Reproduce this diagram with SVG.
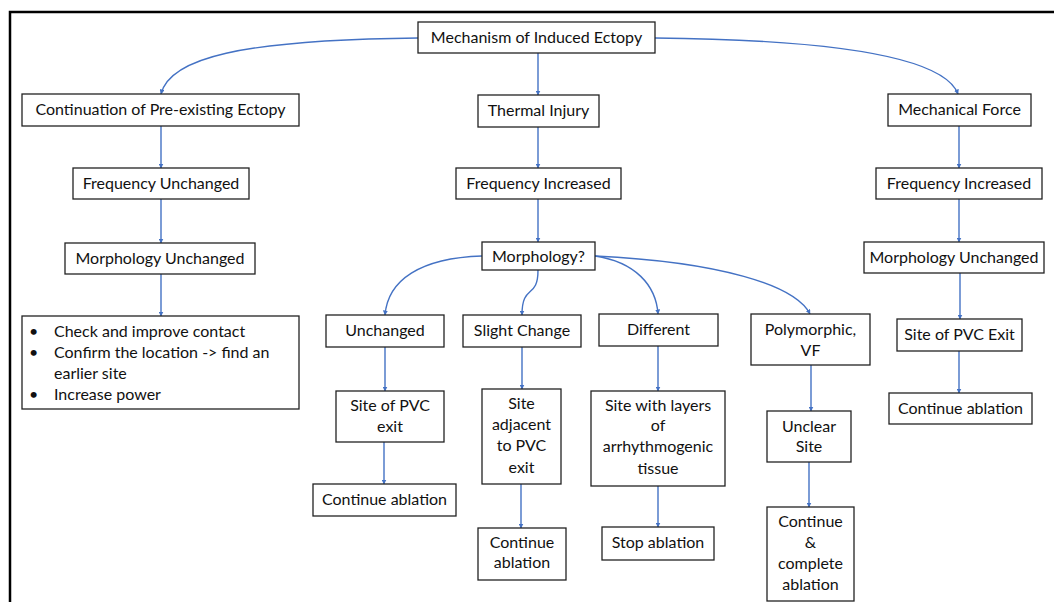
<svg xmlns="http://www.w3.org/2000/svg" width="1054" height="602" viewBox="0 0 1054 602">
<defs>
<style>
.box{fill:#fff;stroke:#222;stroke-width:1.3}
.t{font-family:Lato,"Open Sans",sans-serif;font-size:16px;fill:#111;text-anchor:middle}
.tl{font-family:Lato,"Open Sans",sans-serif;font-size:16px;fill:#111}
.c{fill:none;stroke:#4472C4;stroke-width:1.4;marker-end:url(#ah)}
</style>
<marker id="ah" viewBox="0 0 10 10" refX="9" refY="5" markerWidth="5" markerHeight="5" orient="auto-start-reverse" markerUnits="userSpaceOnUse">
<path d="M0,0 L10,5 L0,10 z" fill="#4472C4"/>
</marker>
</defs>
<rect width="1054" height="602" fill="#fff"/>
<path d="M10,604 L10,12 L1056,12" fill="none" stroke="#000" stroke-width="2.5"/>

<g id="connectors">
<path class="c" d="M418,38 C240,40 170,58 161,94"/>
<path class="c" d="M538,53 L538,95"/>
<path class="c" d="M655,38 C850,40 945,60 958,94"/>
<path class="c" d="M161,126 L161,168"/>
<path class="c" d="M161,199 L161,243"/>
<path class="c" d="M161,274 L161,316"/>
<path class="c" d="M538,127 L538,168"/>
<path class="c" d="M538,199 L538,242"/>
<path class="c" d="M959,126 L959,168"/>
<path class="c" d="M959,199 L959,242"/>
<path class="c" d="M960,273 L960,319"/>
<path class="c" d="M959,351 L959,393"/>
<path class="c" d="M482,256 C420,258 388,280 385,315"/>
<path class="c" d="M538,270 C538,300 522,283 522,315"/>
<path class="c" d="M595,256 C635,262 656,285 658,314"/>
<path class="c" d="M595,256 C720,262 795,285 810,314"/>
<path class="c" d="M385,347 L385,391"/>
<path class="c" d="M522,347 L522,389"/>
<path class="c" d="M658,346 L658,391"/>
<path class="c" d="M811,365 L811,411"/>
<path class="c" d="M384,442 L384,484"/>
<path class="c" d="M521,484 L521,528"/>
<path class="c" d="M658,486 L658,527"/>
<path class="c" d="M809,462 L809,507"/>
</g>

<g id="n-root"><rect class="box" x="418" y="22" width="237" height="31"/><text class="t" x="536.5" y="43">Mechanism of Induced Ectopy</text></g>
<g id="n-cont"><rect class="box" x="22" y="94" width="277" height="32"/><text class="t" x="160.5" y="115">Continuation of Pre-existing Ectopy</text></g>
<g id="n-thermal"><rect class="box" x="478" y="95" width="121" height="32"/><text class="t" x="538.5" y="116">Thermal Injury</text></g>
<g id="n-mech"><rect class="box" x="888" y="94" width="143" height="32"/><text class="t" x="959.5" y="115">Mechanical Force</text></g>
<g id="n-frequnch"><rect class="box" x="73" y="168" width="176" height="31"/><text class="t" x="161" y="189">Frequency Unchanged</text></g>
<g id="n-freqinc1"><rect class="box" x="456" y="168" width="165" height="31"/><text class="t" x="538.5" y="189">Frequency Increased</text></g>
<g id="n-freqinc2"><rect class="box" x="876" y="168" width="166" height="31"/><text class="t" x="959" y="189">Frequency Increased</text></g>
<g id="n-morphunch1"><rect class="box" x="65" y="243" width="190" height="31"/><text class="t" x="160" y="264">Morphology Unchanged</text></g>
<g id="n-morphq"><rect class="box" x="482" y="242" width="113" height="28"/><text class="t" x="538.5" y="262">Morphology?</text></g>
<g id="n-morphunch2"><rect class="box" x="864" y="242" width="180" height="31"/><text class="t" x="954" y="263">Morphology Unchanged</text></g>
<g id="n-bullets"><rect class="box" x="22" y="316" width="277" height="93"/>
<text class="tl" x="29" y="337">•</text><text class="tl" x="54" y="337">Check and improve contact</text>
<text class="tl" x="29" y="358">•</text><text class="tl" x="54" y="358">Confirm the location -&gt; find an</text>
<text class="tl" x="54" y="379">earlier site</text>
<text class="tl" x="29" y="400">•</text><text class="tl" x="54" y="400">Increase power</text>
</g>
<g id="n-unchanged"><rect class="box" x="326" y="315" width="118" height="32"/><text class="t" x="385" y="336">Unchanged</text></g>
<g id="n-slight"><rect class="box" x="463" y="315" width="118" height="32"/><text class="t" x="522" y="336">Slight Change</text></g>
<g id="n-different"><rect class="box" x="599" y="314" width="119" height="32"/><text class="t" x="658.5" y="335">Different</text></g>
<g id="n-poly"><rect class="box" x="751" y="314" width="119" height="51"/><text class="t" x="810.5" y="335">Polymorphic,</text><text class="t" x="810.5" y="356">VF</text></g>
<g id="n-sitepvcexit"><rect class="box" x="897" y="319" width="125" height="32"/><text class="t" x="959.5" y="340">Site of PVC Exit</text></g>
<g id="n-contabl-r"><rect class="box" x="889" y="393" width="143" height="31"/><text class="t" x="960.5" y="414">Continue ablation</text></g>
<g id="n-sitepvc"><rect class="box" x="336" y="391" width="108" height="51"/><text class="t" x="390" y="411">Site of PVC</text><text class="t" x="390" y="432">exit</text></g>
<g id="n-siteadj"><rect class="box" x="482" y="389" width="79" height="95"/><text class="t" x="521.5" y="409">Site</text><text class="t" x="521.5" y="430">adjacent</text><text class="t" x="521.5" y="451">to PVC</text><text class="t" x="521.5" y="473">exit</text></g>
<g id="n-sitelayers"><rect class="box" x="591" y="391" width="134" height="95"/><text class="t" x="658" y="411">Site with layers</text><text class="t" x="658" y="431">of</text><text class="t" x="658" y="452">arrhythmogenic</text><text class="t" x="658" y="474">tissue</text></g>
<g id="n-unclear"><rect class="box" x="767" y="411" width="84" height="51"/><text class="t" x="809" y="432">Unclear</text><text class="t" x="809" y="452">Site</text></g>
<g id="n-contabl1"><rect class="box" x="313" y="484" width="143" height="32"/><text class="t" x="384.5" y="505">Continue ablation</text></g>
<g id="n-contabl2"><rect class="box" x="478" y="528" width="88" height="52"/><text class="t" x="522" y="548">Continue</text><text class="t" x="522" y="568">ablation</text></g>
<g id="n-stop"><rect class="box" x="602" y="527" width="112" height="33"/><text class="t" x="658" y="548">Stop ablation</text></g>
<g id="n-complete"><rect class="box" x="767" y="507" width="87" height="94"/><text class="t" x="810.5" y="527">Continue</text><text class="t" x="810.5" y="548">&amp;</text><text class="t" x="810.5" y="569">complete</text><text class="t" x="810.5" y="590">ablation</text></g>
</svg>
